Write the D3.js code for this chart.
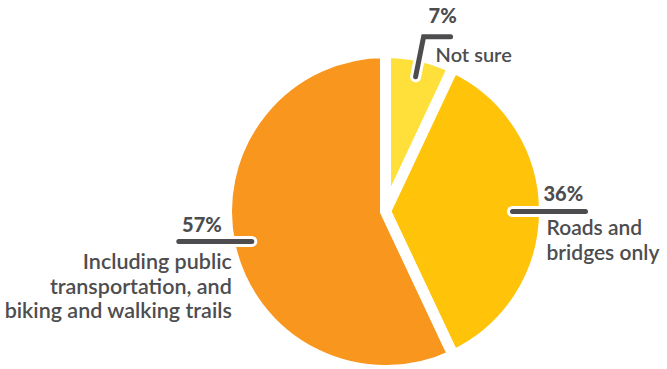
<!DOCTYPE html>
<html>
<head>
<meta charset="utf-8">
<script src="https://cdn.jsdelivr.net/npm/d3@7"></script>
<style>
  body { margin: 0; background: #fff; }
  text { font-family: Lato, "Open Sans", sans-serif; fill: #4d4d4f; }
</style>
</head>
<body>
<div id="container"></div>
<script>
/* DATA */
const categories = ["Not sure", "Roads and bridges only", "Including public transportation, and biking and walking trails"];
const values = [7, 36, 57];
const pctLabels = ["7%", "36%", "57%"];
const labelLines = [["Not sure"], ["Roads and", "bridges only"], ["Including public", "transportation, and", "biking and walking trails"]];
const colors = ["#ffe03a", "#ffc40a", "#f8961d"];

/* CONSTANTS */
const width = 667, height = 369;
const cx = 385.5, cy = 211.5;
const radius = 159, gap = 11;

const svg = d3.select("#container")
  .append("svg")
  .attr("width", width)
  .attr("height", height);

const pie = d3.pie().sort(null).value(d => d);
const arcs = pie(values);

const arc = d3.arc().innerRadius(0).outerRadius(radius);

const g = svg.append("g").attr("transform", `translate(${cx},${cy})`);

g.selectAll("path")
  .data(arcs)
  .join("path")
  .attr("d", arc)
  .attr("fill", (d, i) => colors[i])
  .attr("stroke", "#fff")
  .attr("stroke-width", gap)
  .attr("stroke-linejoin", "miter");

// leader start points sit on each slice's bisector
const startR = [138, 127, 137];
const starts = arcs.map((d, i) => d3.arc().innerRadius(startR[i]).outerRadius(startR[i]).centroid(d));

// leader shapes relative to start point
const leaders = [
  [[0, 0], [8, -40], [35, -40]],
  [[0, 0], [73, 0]],
  [[0, 0], [-73, 0]]
];

const line = d3.line();
const lg = g.append("g");
leaders.forEach((pts, i) => {
  const p = pts.map(q => [q[0] + starts[i][0], q[1] + starts[i][1]]);
  lg.append("path").attr("d", line(p)).attr("fill", "none")
    .attr("stroke", "#fff").attr("stroke-width", 11)
    .attr("stroke-linecap", "round").attr("stroke-linejoin", "round");
  lg.append("path").attr("d", line(p)).attr("fill", "none")
    .attr("stroke", "#4d4d4f").attr("stroke-width", 5)
    .attr("stroke-linecap", "round").attr("stroke-linejoin", "miter");
});

// text placement relative to leader start
const textPos = [
  { px: 27, py: -54, anchor: "middle", lx: 20, ly: -15, la: "start", fs: 20 },
  { px: 31, py: -11, anchor: "start", lx: 34, ly: 23.5, la: "start", fs: 21 },
  { px: -30, py: -9, anchor: "end", lx: -20, ly: 28, la: "end", fs: 21.5 }
];

arcs.forEach((d, i) => {
  const s = starts[i], t = textPos[i];
  g.append("text")
    .attr("x", s[0] + t.px).attr("y", s[1] + t.py)
    .attr("text-anchor", t.anchor)
    .attr("font-size", 20).attr("font-weight", 900)
    .text(pctLabels[i]);
  const tx = g.append("text")
    .attr("text-anchor", t.la)
    .attr("font-size", t.fs).attr("font-weight", 600);
  labelLines[i].forEach((ln, k) => {
    tx.append("tspan").attr("x", s[0] + t.lx).attr("y", s[1] + t.ly + k * 24.5).text(ln);
  });
});
</script>
</body>
</html>
